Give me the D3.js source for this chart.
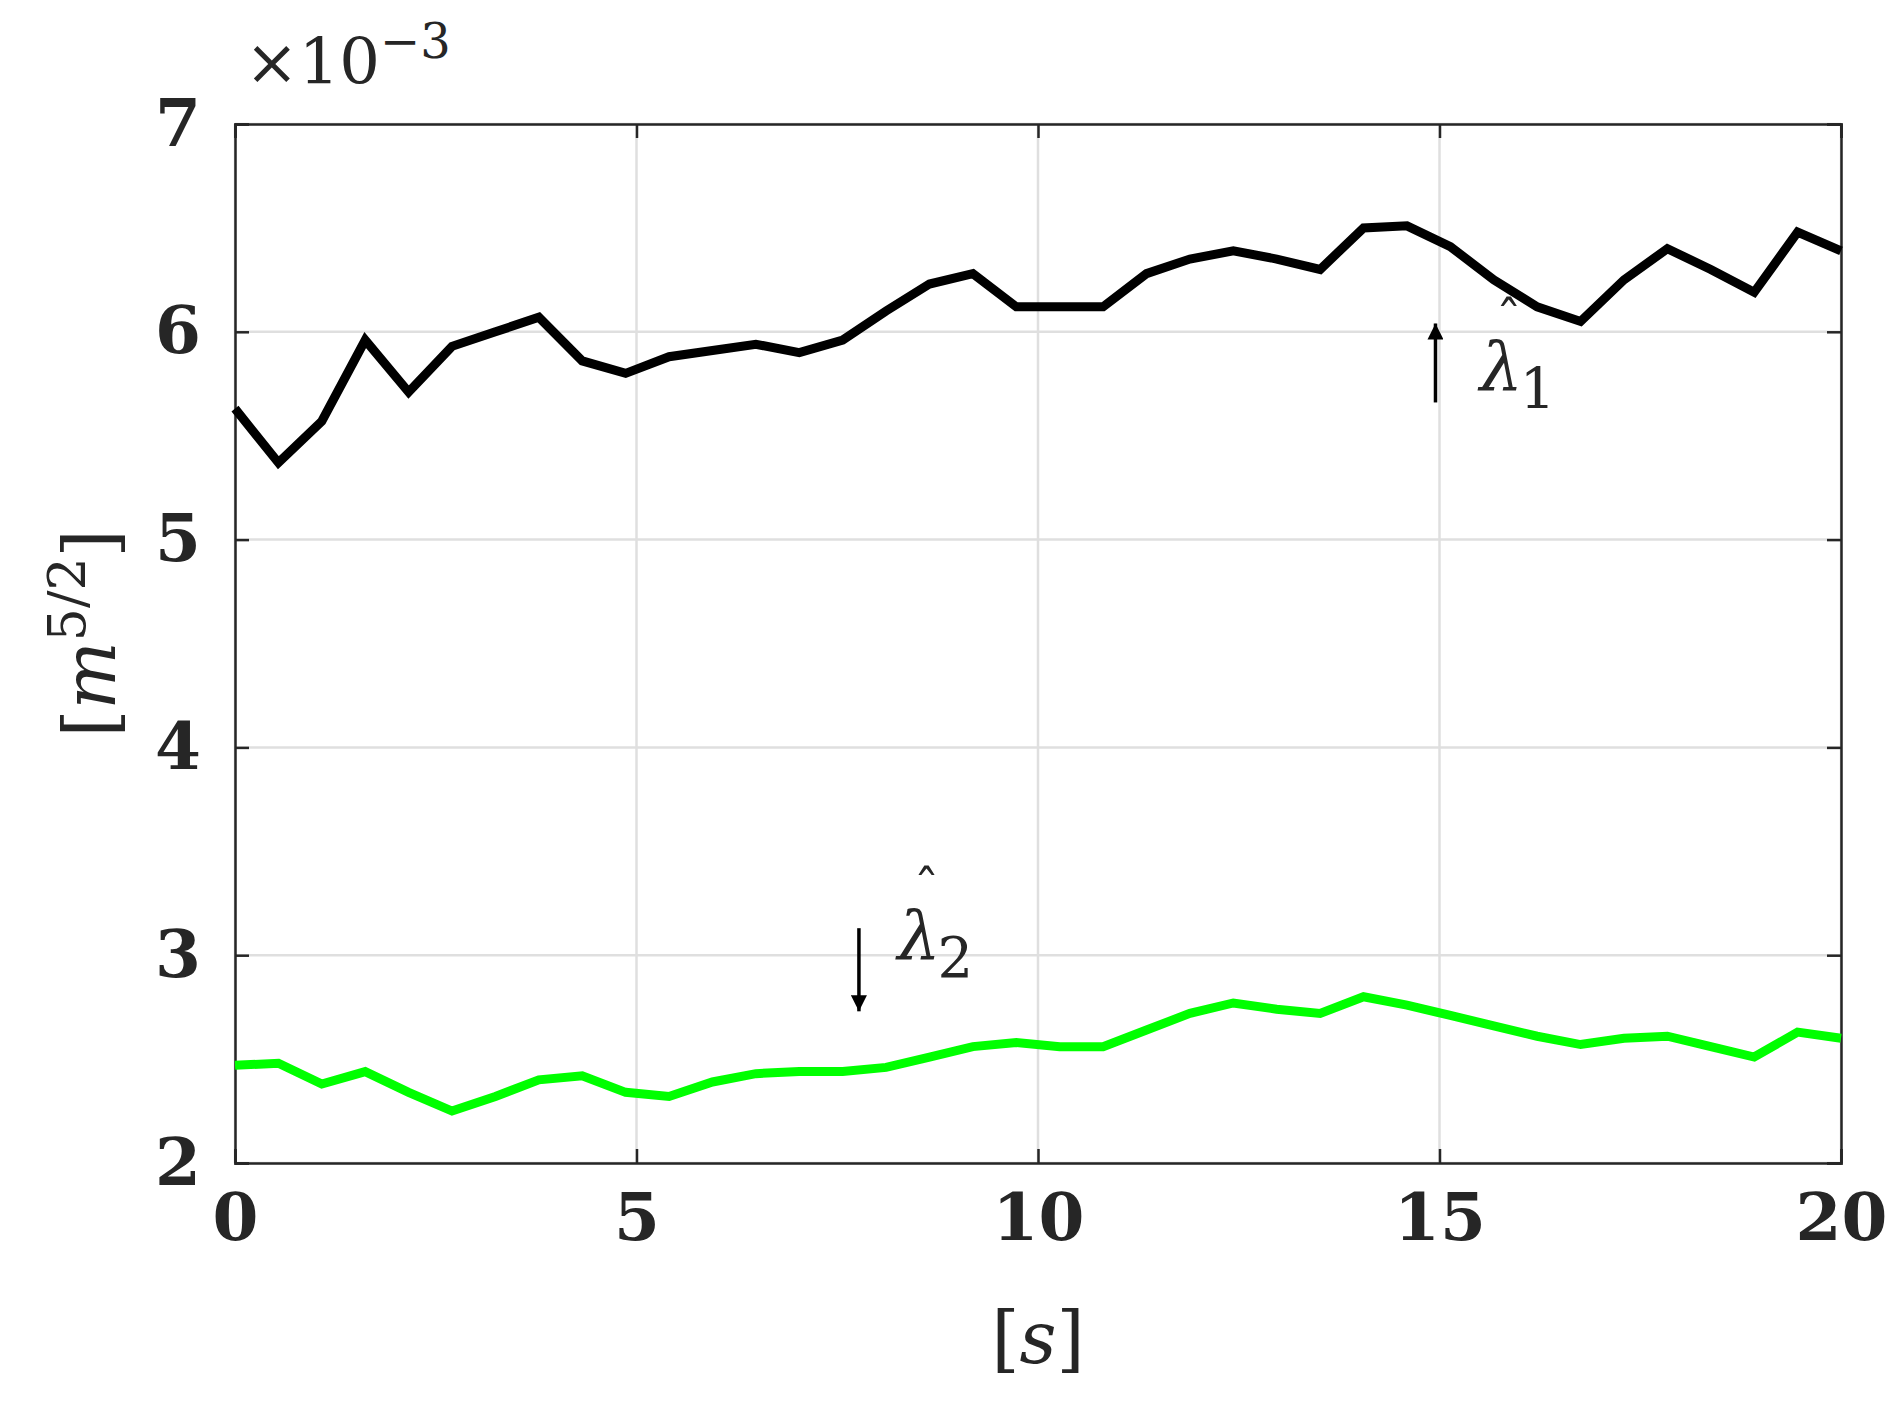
<!DOCTYPE html>
<html><head><meta charset="utf-8">
<script src="https://cdn.jsdelivr.net/npm/d3@7"></script>
<style>body{margin:0;background:#fff}text{font-family:"DejaVu Serif",serif;fill:#262626}</style>
</head><body><div class="chart"></div>
<script>
const n = 38
const lambda1 = [5.63,5.37,5.57,5.96,5.71,5.93,6.00,6.07,5.86,5.80,5.88,5.91,5.94,5.90,5.96,6.10,6.23,6.28,6.12,6.12,
  6.12,6.28,6.35,6.39,6.35,6.30,6.50,6.51,6.41,6.25,6.12,6.05,6.25,6.40,6.30,6.19,6.48,6.39]
const lambda2 = [2.47,2.48,2.38,2.44,2.34,2.25,2.32,2.40,2.42,2.34,2.32,2.39,2.43,2.44,2.44,2.46,2.51,2.56,2.58,2.56,
  2.56,2.64,2.72,2.77,2.74,2.72,2.80,2.76,2.71,2.66,2.61,2.57,2.60,2.61,2.56,2.51,2.63,2.60]
const times = d3.range(n).map(i => i * 20 / (n - 1))
const xTicks = [0,5,10,15,20]
const yTicks = [2,3,4,5,6,7]

var margin = {top: 124, right: 60, bottom: 245, left: 235};
var width = 1901 - margin.left - margin.right,
    height = 1408 - margin.top - margin.bottom

const svg = d3.select(".chart").append("svg")
    .attr("width", 1901).attr("height", 1408)
    .append("g")
    .attr("transform", "translate(" + margin.left + "," + margin.top + ")");

const xScale = d3.scaleLinear().domain([0, 20]).range([0, width])
const yScale = d3.scaleLinear().domain([2, 7]).range([height, 0])

// grid
svg.selectAll(".gx").data(xTicks).enter().append("line")
    .attr("x1", d => xScale(d)).attr("x2", d => xScale(d))
    .attr("y1", 0).attr("y2", height)
    .attr("stroke", "#dfdfdf").attr("stroke-width", 2.5)
svg.selectAll(".gy").data(yTicks).enter().append("line")
    .attr("y1", d => yScale(d)).attr("y2", d => yScale(d))
    .attr("x1", 0).attr("x2", width)
    .attr("stroke", "#dfdfdf").attr("stroke-width", 2.5)

const xAxis = d3.axisBottom(xScale).tickValues(xTicks).tickSize(-14).tickPadding(30).tickFormat(d3.format("d"))
const yAxis = d3.axisLeft(yScale).tickValues(yTicks).tickSize(-14).tickPadding(34).tickFormat(d3.format("d"))

svg.append("g").attr("transform", `translate(0, ${height})`).call(xAxis)
svg.append("g").call(yAxis)
svg.append("g").attr("transform", `translate(${width}, 0)`)
    .call(d3.axisRight(yScale).tickValues(yTicks).tickSize(-14).tickFormat(""))
svg.append("g").call(d3.axisTop(xScale).tickValues(xTicks).tickSize(-14).tickFormat(""))
svg.selectAll(".domain").attr("stroke", "#262626").attr("stroke-width", 2.5)
svg.selectAll(".tick line").attr("stroke", "#262626").attr("stroke-width", 2.5)
svg.selectAll(".tick text").style("font-size", "66px").style("font-weight", "bold").attr("fill", "#262626")

const line = d3.line().x((d, i) => xScale(times[i])).y(d => yScale(d))
svg.append("path").datum(lambda1).attr("d", line)
    .attr("fill", "none").attr("stroke", "#000").attr("stroke-width", 9)
svg.append("path").datum(lambda2).attr("d", line)
    .attr("fill", "none").attr("stroke", "#00ff00").attr("stroke-width", 9)

// arrows
svg.append("defs").append("marker").attr("id", "ah")
    .attr("viewBox", "0 0 10 10").attr("refX", 10).attr("refY", 5)
    .attr("markerWidth", 30).attr("markerHeight", 16).attr("markerUnits", "userSpaceOnUse")
    .attr("orient", "auto").append("path").attr("d", "M0,0L10,5L0,10z").attr("fill", "#000")
svg.append("line").attr("x1", xScale(14.95)).attr("x2", xScale(14.95))
    .attr("y1", yScale(5.66)).attr("y2", yScale(6.04))
    .attr("stroke", "#000").attr("stroke-width", 3.5).attr("marker-end", "url(#ah)")
svg.append("line").attr("x1", xScale(7.77)).attr("x2", xScale(7.77))
    .attr("y1", yScale(3.13)).attr("y2", yScale(2.73))
    .attr("stroke", "#000").attr("stroke-width", 3.5).attr("marker-end", "url(#ah)")

function lam(x, y, sub) {
  const g = svg.append("g").attr("transform", `translate(${x},${y})`)
  g.append("text").attr("x", 0).attr("y", 0).style("font-size", "68px").style("font-style", "italic").attr("fill", "#000").text("λ")
  g.append("text").attr("x", 16).attr("y", -52).style("font-size", "52px").attr("fill", "#000").text("ˆ")
  g.append("text").attr("x", 40).attr("y", 18).style("font-size", "56px").attr("fill", "#000").text(sub)
}
lam(xScale(15.5), yScale(5.72), "1")
lam(xScale(8.25), yScale(2.98), "2")

// exponent
const ex = svg.append("text").attr("x", 10).attr("y", -40).style("font-size", "64px")
ex.append("tspan").text("×10")
ex.append("tspan").attr("dy", -26).style("font-size", "48px").text("−3")

// axis labels
svg.append("text").attr("x", width / 2).attr("y", height + 200).attr("text-anchor", "middle")
    .style("font-size", "72px").html('[<tspan font-style="italic">s</tspan>]')
svg.append("text").attr("transform", `translate(-120, ${height / 2 - 10}) rotate(-90)`).attr("text-anchor", "middle")
    .style("font-size", "72px").html('[<tspan font-style="italic">m</tspan><tspan dy="-30" font-size="52">5/2</tspan><tspan dy="30">]</tspan>')
</script></body></html>
